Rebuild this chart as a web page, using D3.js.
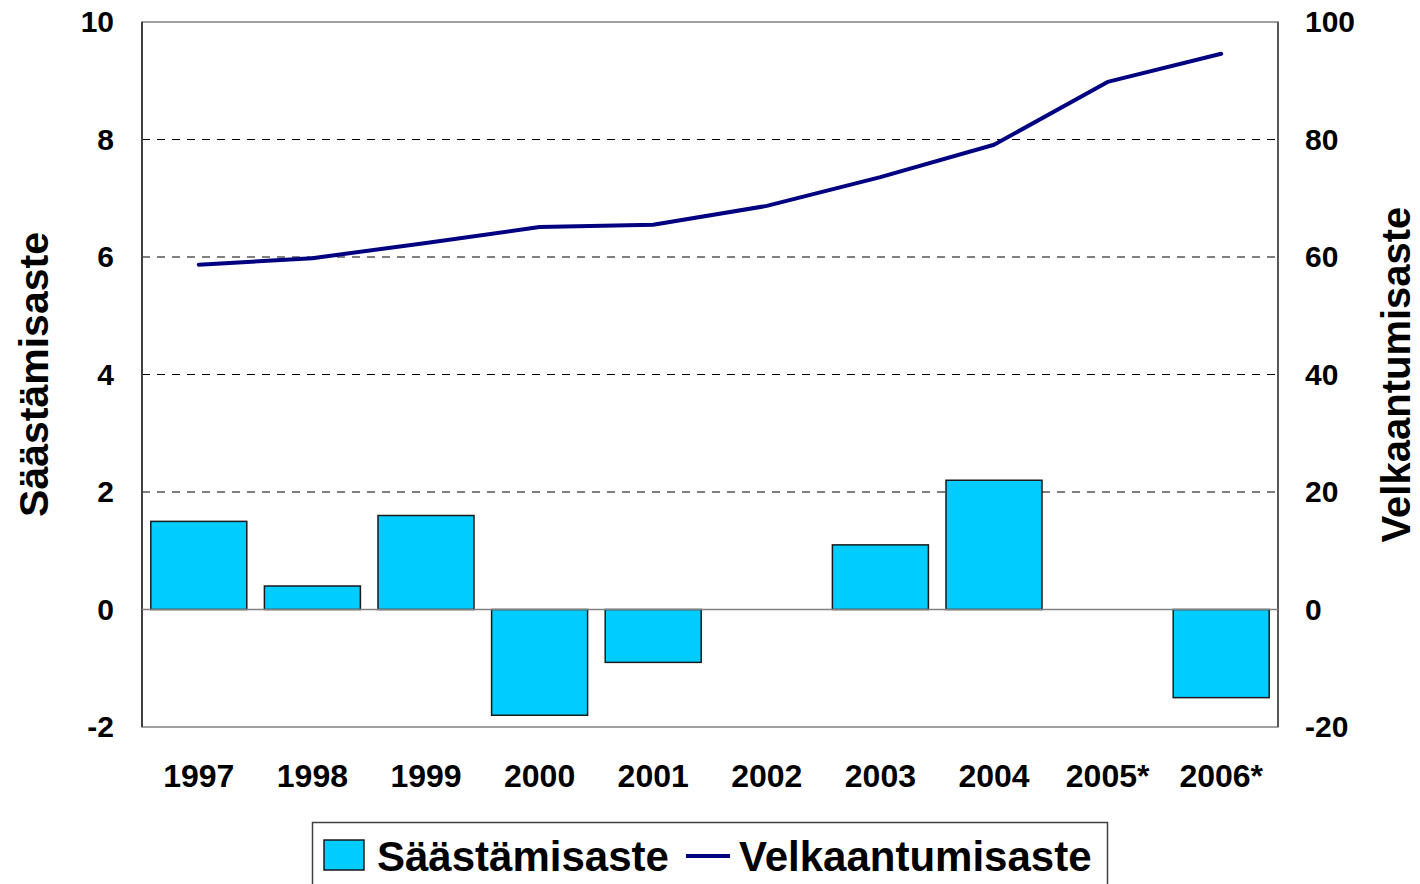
<!DOCTYPE html>
<html>
<head>
<meta charset="utf-8">
<script src="https://cdn.jsdelivr.net/npm/d3@7/dist/d3.min.js"></script>
<style>
  body { margin: 0; background: #fff; }
  text { font-family: "Liberation Sans", Arial, sans-serif; font-weight: bold; fill: #000; }
</style>
</head>
<body>
<div id="chart"></div>
<script>
// data
var years = ["1997", "1998", "1999", "2000", "2001", "2002", "2003", "2004", "2005*", "2006*"];
var saastamisaste = [1.5, 0.4, 1.6, -1.8, -0.9, 0, 1.1, 2.2, 0, -1.5];
var velkaantumisaste = [58.7, 59.8, 62.4, 65.1, 65.5, 68.7, 73.6, 79.1, 89.8, 94.6];
var leftTicks = [-2, 0, 2, 4, 6, 8, 10];
var rightTicks = [-20, 0, 20, 40, 60, 80, 100];

var W = 1420, H = 884;
var margin = {top: 22, right: 142, bottom: 157, left: 142};
var width = W - margin.left - margin.right;   // 1136
var height = H - margin.top - margin.bottom;  // 705

var svg = d3.select("#chart").append("svg")
    .attr("width", W)
    .attr("height", H);

var g = svg.append("g")
    .attr("transform", "translate(" + margin.left + "," + margin.top + ")");

var xScale = d3.scaleBand().domain(years).range([0, width])
    .paddingInner(0.155).paddingOuter(0.0775);
var yLeft = d3.scaleLinear().domain([-2, 10]).range([height, 0]);
var yRight = d3.scaleLinear().domain([-20, 100]).range([height, 0]);

// dashed grid lines
g.append("g").selectAll("line")
    .data([2, 4, 6, 8])
    .enter().append("line")
    .attr("x1", 0).attr("x2", width)
    .attr("y1", function(d) { return yLeft(d); })
    .attr("y2", function(d) { return yLeft(d); })
    .attr("stroke", "#000")
    .attr("stroke-width", 1)
    .attr("stroke-dasharray", "8,7");

// plot frame
g.append("rect")
    .attr("x", 0).attr("y", 0)
    .attr("width", width).attr("height", height)
    .attr("fill", "none")
    .attr("stroke", "#808080")
    .attr("stroke-width", 1.5);
g.append("line")
    .attr("x1", 0).attr("x2", 0).attr("y1", 0).attr("y2", height)
    .attr("stroke", "#404040").attr("stroke-width", 2);
g.append("line")
    .attr("x1", width).attr("x2", width).attr("y1", 0).attr("y2", height)
    .attr("stroke", "#404040").attr("stroke-width", 1.5);

// bars (zero values draw nothing)
var barData = years.map(function(y, i) { return {year: y, value: saastamisaste[i]}; })
    .filter(function(d) { return d.value !== 0; });
g.append("g").selectAll("rect")
    .data(barData)
    .enter().append("rect")
    .attr("x", function(d) { return xScale(d.year); })
    .attr("width", xScale.bandwidth())
    .attr("y", function(d) { return yLeft(Math.max(0, d.value)); })
    .attr("height", function(d) { return Math.abs(yLeft(d.value) - yLeft(0)); })
    .attr("fill", "#00CCFF")
    .attr("stroke", "#1a1a1a")
    .attr("stroke-width", 1.5);

// zero line
g.append("line")
    .attr("x1", 0).attr("x2", width)
    .attr("y1", yLeft(0)).attr("y2", yLeft(0))
    .attr("stroke", "#808080").attr("stroke-width", 1.5);

// debt ratio line
var line = d3.line()
    .x(function(d, i) { return xScale(years[i]) + xScale.bandwidth() / 2; })
    .y(function(d) { return yRight(d); });
g.append("path")
    .datum(velkaantumisaste)
    .attr("d", line)
    .attr("fill", "none")
    .attr("stroke", "#000080")
    .attr("stroke-width", 4)
    .attr("stroke-linecap", "round")
    .attr("stroke-linejoin", "round");

// axes
var plain = function(d) { return String(d); };
var leftAxis = d3.axisLeft(yLeft).tickValues(leftTicks).tickFormat(plain).tickSize(0).tickPadding(28);
var rightAxis = d3.axisRight(yRight).tickValues(rightTicks).tickFormat(plain).tickSize(0).tickPadding(27);
var bottomAxis = d3.axisBottom(xScale).tickSize(0).tickPadding(37);

g.append("g").attr("class", "axis-left").call(leftAxis);
g.append("g").attr("class", "axis-right")
    .attr("transform", "translate(" + width + ",0)").call(rightAxis);
g.append("g").attr("class", "axis-bottom")
    .attr("transform", "translate(0," + height + ")").call(bottomAxis);

g.selectAll(".domain").remove();
g.selectAll(".axis-left text, .axis-right text")
    .style("font-family", "'Liberation Sans', Arial, sans-serif")
    .style("font-weight", "bold")
    .style("font-size", "30px")
    .attr("fill", "#000");
g.selectAll(".axis-bottom text")
    .style("font-family", "'Liberation Sans', Arial, sans-serif")
    .style("font-weight", "bold")
    .style("font-size", "32px")
    .attr("fill", "#000");

// axis titles
svg.append("text")
    .attr("transform", "translate(48," + (margin.top + height / 2) + ") rotate(-90)")
    .attr("text-anchor", "middle")
    .style("font-size", "41px")
    .text("Säästämisaste");
svg.append("text")
    .attr("transform", "translate(1410," + (margin.top + height / 2) + ") rotate(-90)")
    .attr("text-anchor", "middle")
    .style("font-size", "40px")
    .text("Velkaantumisaste");

// legend
var legend = svg.append("g");
legend.append("rect")
    .attr("x", 312.5).attr("y", 822.5)
    .attr("width", 795).attr("height", 70)
    .attr("fill", "#fff")
    .attr("stroke", "#404040")
    .attr("stroke-width", 1.5);
legend.append("rect")
    .attr("x", 324).attr("y", 840)
    .attr("width", 40).attr("height", 30)
    .attr("fill", "#00CCFF")
    .attr("stroke", "#1a1a1a")
    .attr("stroke-width", 1.5);
legend.append("text")
    .attr("x", 377).attr("y", 871)
    .style("font-size", "42px")
    .text("Säästämisaste");
legend.append("line")
    .attr("x1", 686).attr("x2", 730)
    .attr("y1", 856).attr("y2", 856)
    .attr("stroke", "#000080")
    .attr("stroke-width", 4);
legend.append("text")
    .attr("x", 739).attr("y", 871)
    .style("font-size", "42px")
    .text("Velkaantumisaste");
</script>
</body>
</html>
